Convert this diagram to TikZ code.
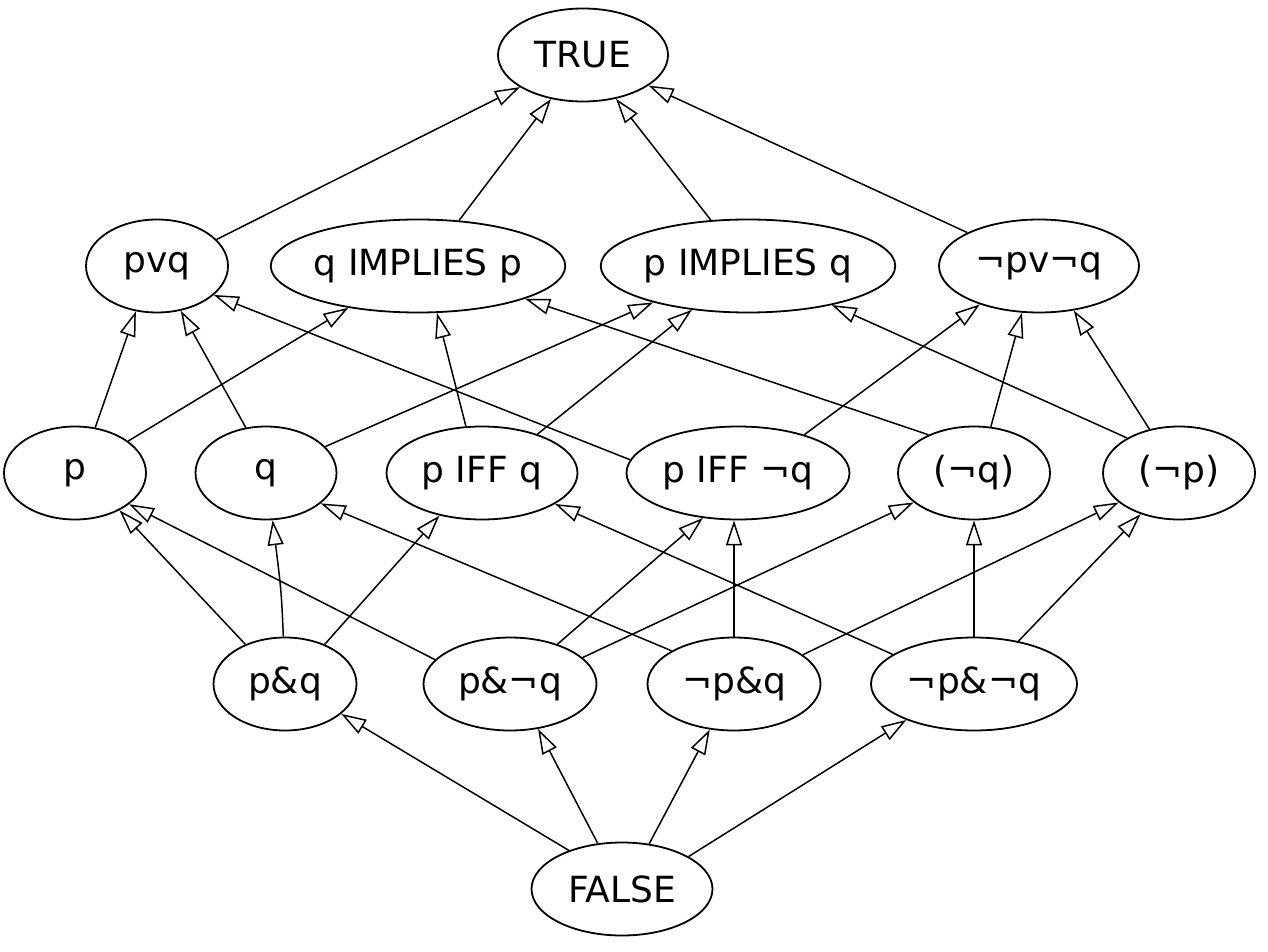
\documentclass[tikz,border=0pt]{standalone}
\usepackage{fontspec}
\setmainfont{DejaVu Sans}
\usetikzlibrary{shapes.geometric,arrows.meta}
\begin{document}
\begin{tikzpicture}[x=1pt,y=-1pt,
  ell/.style={ellipse,draw,line width=1.8pt,inner sep=0pt,minimum height=93pt,
    font=\fontsize{36}{40}\selectfont},
  edge/.style={line width=1.5pt,-{Triangle[open,fill=white,length=25pt,width=16pt]}}]
\useasboundingbox (0,0) rectangle (1268,952);
% nodes
\node[ell,minimum width=170pt] (TRUE) at (583,55) {TRUE};
\node[ell,minimum width=142pt] (pvq) at (157,266) {pvq};
\node[ell,minimum width=278pt] (qIp) at (418,266) {q IMPLIES p};
\node[ell,minimum width=280pt] (pIq) at (748,266) {p IMPLIES q};
\node[ell,minimum width=200pt] (nor) at (1039,266) {¬pv¬q};
\node[ell,minimum width=142pt] (p) at (75,473) {p};
\node[ell,minimum width=141pt] (q) at (266,473) {q};
\node[ell,minimum width=191pt] (iff) at (482,473) {p IFF q};
\node[ell,minimum width=223pt] (iffn) at (738,473) {p IFF ¬q};
\node[ell,minimum width=152pt] (nq) at (974,473) {(¬q)};
\node[ell,minimum width=152pt] (np) at (1179,473) {(¬p)};
\node[ell,minimum width=143pt] (pq) at (285,684) {p\&q};
\node[ell,minimum width=173pt] (pnq) at (510,684) {p\&¬q};
\node[ell,minimum width=173pt] (npq) at (734,684) {¬p\&q};
\node[ell,minimum width=206pt] (npnq) at (974,684) {¬p\&¬q};
\node[ell,minimum width=181pt] (FALSE) at (622,889) {FALSE};
% level 1 -> TRUE
\draw[edge] (pvq.24.7) -- (TRUE.207.3);
\draw[edge] (qIp.48.8) -- (TRUE.234.3);
\draw[edge] (pIq.129) -- (TRUE.307.3);
\draw[edge] (nor.155.3) -- (TRUE.335.8);
% level 2 -> level 1
\draw[edge] (p.66.5) -- (pvq.245.6);
\draw[edge] (p.31.1) -- (qIp.211.1);
\draw[edge] (q.114.5) -- (pvq.298.1);
\draw[edge] (q.24.6) -- (pIq.201.6);
\draw[edge] (iff.109.2) -- (qIp.292.9);
\draw[edge] (iff.35.6) -- (pIq.218.4);
\draw[edge] (iffn.173.4) -- (pvq.333);
\draw[edge] (iffn.30.8) -- (nor.213.7);
\draw[edge] (nq.140.6) -- (qIp.343.8);
\draw[edge] (nq.70.8) -- (nor.250.4);
\draw[edge] (np.146) -- (pIq.335.6);
\draw[edge] (np.124.6) -- (nor.308.3);
% level 3 -> level 2
\draw[edge] (pq.135.7) -- (p.320.6);
\draw[edge] (pq.92.4) .. controls +(-2,-45) .. (q.278.5);
\draw[edge] (pq.45) -- (iff.225.7);
\draw[edge] (pnq.162.9) -- (p.330.6);
\draw[edge] (pnq.40.9) -- (iffn.232.7);
\draw[edge] (pnq.20.3) -- (nq.206.2);
\draw[edge] (npq.152.7) -- (q.331.9);
\draw[edge] (npq.north) -- (iffn.south -| npq.north);
\draw[edge] (npq.23.7) -- (np.206.6);
\draw[edge] (npnq.160.8) -- (iff.337.7);
\draw[edge] (npnq.90) -- (nq.270);
\draw[edge] (npnq.44.4) -- (np.227.1);
% FALSE -> level 3
\draw[edge] (FALSE.144.3) -- (pq.332.2);
\draw[edge] (FALSE.118.6) -- (pnq.302.1);
\draw[edge] (FALSE.59.4) -- (npq.242.9);
\draw[edge] (FALSE.26.9) -- (npnq.208.7);
\end{tikzpicture}
\end{document}
